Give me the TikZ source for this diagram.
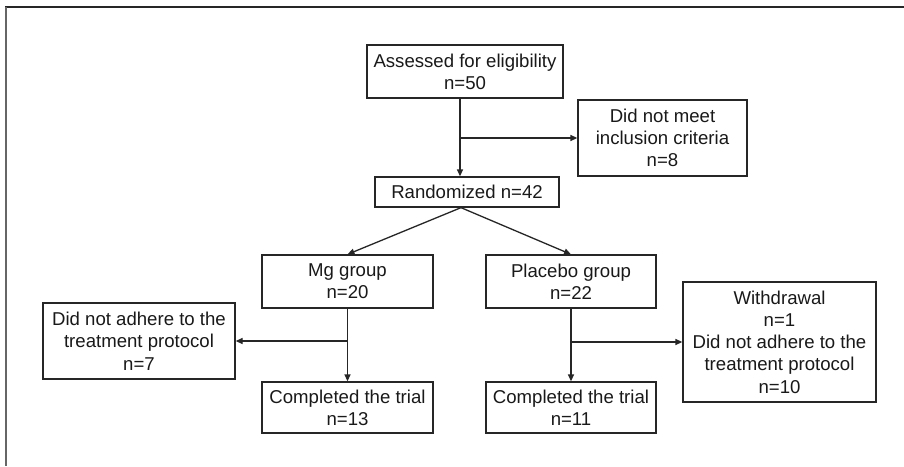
\documentclass[tikz,border=0pt]{standalone}
\usepackage{fontspec}
\setmainfont{Liberation Sans}
\usetikzlibrary{arrows.meta,calc}
\begin{document}
\begin{tikzpicture}[x=1pt,y=-1pt,
  box/.style={draw=black!85,line width=1.3pt,align=center,inner sep=0pt,
    text=black!90,font=\fontsize{18.6}{22.3}\selectfont},
  arr/.style={draw=black!85,line width=1.3pt,-{Triangle[length=7pt,width=6pt]}}]
\useasboundingbox (0,0) rectangle (904,466);
\fill[white] (0,0) rectangle (904,466);
\coordinate (fa) at (5,7);
\coordinate (fb) at (904,7);
\coordinate (fc) at (5.5,466);
\draw[black!85,line width=1.5pt] (fa) -- (fb);
\draw[black!60,line width=2pt] (5.5,7) -- (fc);

\node[box,minimum width=196pt,minimum height=53pt] (assess) at (465,71.5) {Assessed for eligibility\\n=50};
\node[box,minimum width=169pt,minimum height=76pt] (nomeet) at (662.5,138) {Did not meet\\inclusion criteria\\n=8};
\node[box,minimum width=184pt,minimum height=30pt] (rand) at (467,192) {Randomized n=42};
\node[box,minimum width=171pt,minimum height=53pt] (mg) at (347.5,281.5) {Mg group\\n=20};
\node[box,minimum width=170pt,minimum height=53pt] (plac) at (571,281.5) {Placebo group\\n=22};
\node[box,minimum width=192pt,minimum height=76pt] (adh) at (139,341) {Did not adhere to the\\treatment protocol\\n=7};
\node[box,minimum width=171pt,minimum height=51pt] (mgc) at (347.5,407.5) {Completed the trial\\n=13};
\node[box,minimum width=170pt,minimum height=51pt] (plc) at (571,407.5) {Completed the trial\\n=11};
\node[box,minimum width=193pt,minimum height=120pt] (wd) at (779.5,342) {Withdrawal\\n=1\\Did not adhere to the\\treatment protocol\\n=10};

% assessed -> randomized, branch to not meet
\coordinate (a1) at ([xshift=-5pt]assess.south);
\coordinate (j1) at (a1 |- nomeet.west);
\draw[arr] (a1) -- (a1 |- rand.north);
\draw[arr] (j1) -- (nomeet.west);

% randomized -> groups
\coordinate (r1) at ([xshift=-6pt]rand.south);
\draw[arr] (r1) -- (mg.north);
\draw[arr] (r1) -- (plac.north);

% mg -> completed, branch left
\coordinate (j2) at (mg.south |- adh.east);
\draw[arr] (mg.south) -- (mgc.north);
\draw[arr] (j2) -- (adh.east);

% placebo -> completed, branch right
\coordinate (j3) at (plac.south |- wd.west);
\draw[arr] (plac.south) -- (plc.north);
\draw[arr] (j3) -- (wd.west);
\end{tikzpicture}
\end{document}
